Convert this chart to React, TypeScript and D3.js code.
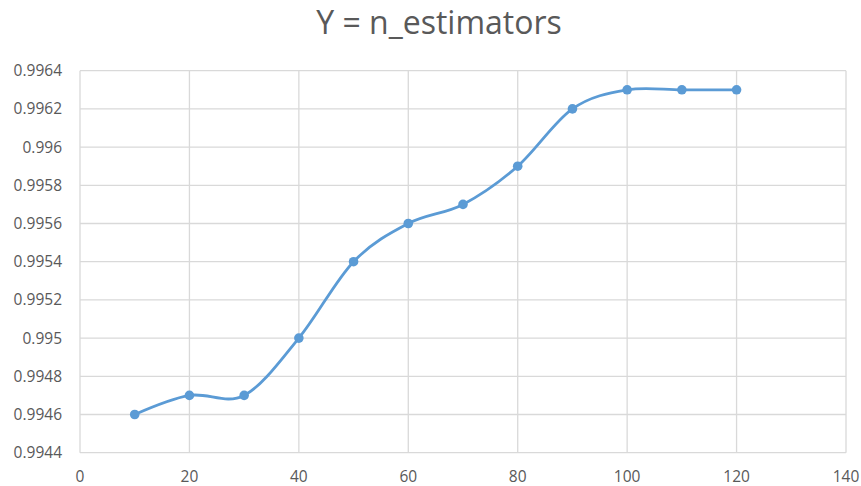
import React from "react";
import * as d3 from "d3";

const xValues = [10, 20, 30, 40, 50, 60, 70, 80, 90, 100, 110, 120];
const yValues = [0.9946, 0.9947, 0.9947, 0.995, 0.9954, 0.9956, 0.9957, 0.9959, 0.9962, 0.9963, 0.9963, 0.9963];
const xTicks = [0, 20, 40, 60, 80, 100, 120, 140];
const yTicks = [0.9944, 0.9946, 0.9948, 0.995, 0.9952, 0.9954, 0.9956, 0.9958, 0.996, 0.9962, 0.9964];
const title = "Y = n_estimators";

export default function App() {
  const W = 861, H = 486;
  const left = 80, right = 846, top = 70.7, bottom = 452.7;
  const x = d3.scaleLinear().domain([0, 140]).range([left, right]);
  const y = d3.scaleLinear().domain([0.9944, 0.9964]).range([bottom, top]);
  const pts = xValues.map((v, i) => [v, yValues[i]] as [number, number]);
  const line = d3.line<[number, number]>()
    .x(d => x(d[0]))
    .y(d => y(d[1]))
    .curve(d3.curveCardinal.tension(0));
  const font = "'Open Sans', 'Noto Sans', sans-serif";
  const fmt = (v: number) => String(parseFloat(v.toFixed(4)));
  return (
    <svg width={W} height={H} style={{ position: "absolute", left: 0, top: 0 }}>
      <rect width={W} height={H} fill="#fff" />
      <text x={439} y={34} textAnchor="middle" fontFamily={font} fontSize={32} fill="#595959">{title}</text>
      {yTicks.map(t => (
        <g key={"y" + t}>
          <line x1={left} x2={right} y1={y(t)} y2={y(t)} stroke="#d9d9d9" strokeWidth={1.3} />
          <text x={62} y={y(t) + 5.5} textAnchor="end" fontFamily={font} fontSize={15.5} fill="#595959">{fmt(t)}</text>
        </g>
      ))}
      {xTicks.map(t => (
        <g key={"x" + t}>
          <line x1={x(t)} x2={x(t)} y1={top} y2={bottom} stroke="#d9d9d9" strokeWidth={1.3} />
          <text x={x(t)} y={482} textAnchor="middle" fontFamily={font} fontSize={15.5} fill="#595959">{t}</text>
        </g>
      ))}
      <path d={line(pts) || ""} fill="none" stroke="#5b9bd5" strokeWidth={2.8} strokeLinecap="round" />
      {pts.map((d, i) => (
        <circle key={i} cx={x(d[0])} cy={y(d[1])} r={4.8} fill="#5b9bd5" />
      ))}
    </svg>
  );
}
